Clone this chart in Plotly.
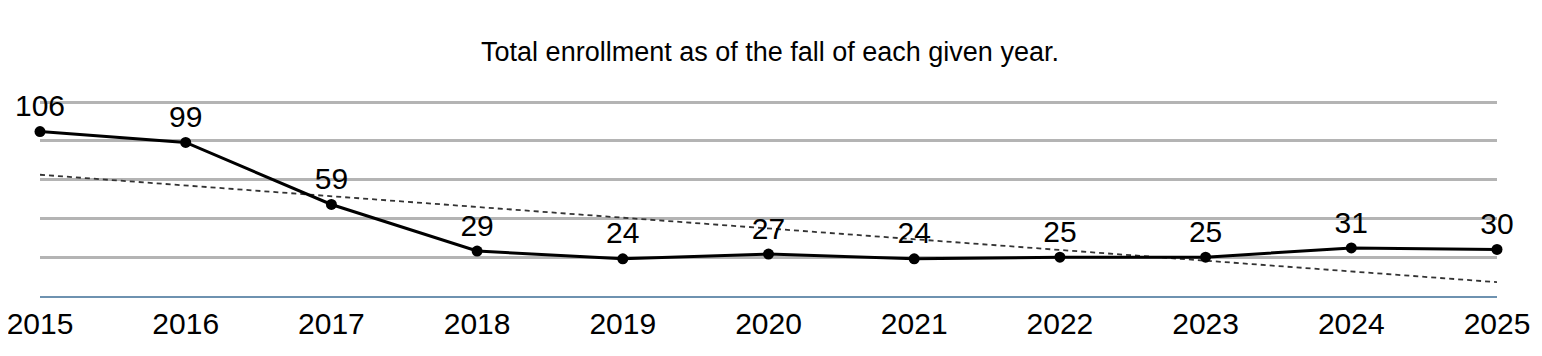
import numpy as np
import plotly.graph_objects as go

years = [2015, 2016, 2017, 2018, 2019, 2020, 2021, 2022, 2023, 2024, 2025]
enrollment = [106, 99, 59, 29, 24, 27, 24, 25, 25, 31, 30]
title_text = "Total enrollment as of the fall of each given year."

# linear trend line derived from data
coef = np.polyfit(years, enrollment, 1)
trend = list(np.polyval(coef, years))

FONT = "Liberation Sans, Arial, sans-serif"
W, H = 1534, 348  # page body has an 8px margin

fig = go.Figure()
fig.add_trace(go.Scatter(
    x=years, y=trend, mode="lines",
    line=dict(color="#333333", width=1.8, dash="5px,4px"),
    hoverinfo="skip", showlegend=False, cliponaxis=False,
))
fig.add_trace(go.Scatter(
    x=years, y=enrollment, mode="lines+markers+text",
    line=dict(color="black", width=3),
    marker=dict(color="black", size=11),
    text=[str(v) for v in enrollment], textposition="top center",
    textfont=dict(family=FONT, size=30, color="black"),
    showlegend=False, cliponaxis=False,
))

fig.update_layout(
    width=W, height=H,
    margin=dict(l=32, r=45, t=91, b=60, autoexpand=False),
    paper_bgcolor="white", plot_bgcolor="white",
    title=dict(text=title_text, x=(770 - 8) / W, xanchor="center", y=1 - 44 / H, yanchor="middle",
               font=dict(family=FONT, size=27, color="black")),
    font=dict(family=FONT, color="black"),
)
fig.update_xaxes(
    range=[2015, 2025], tickvals=years, ticktext=[str(y) for y in years],
    showgrid=False, zeroline=False, showline=True, linecolor="#6e92b0", linewidth=1.5,
    ticks="", tickfont=dict(size=30, color="black"), automargin=False,
    ticklabeloverflow="allow",
)
fig.update_yaxes(
    range=[0, 127], tickvals=[25, 50, 75, 100, 125], showticklabels=False,
    showgrid=True, gridcolor="#b4b4b4", gridwidth=2.5, zeroline=False, automargin=False,
)

fig.write_html("out.html")
